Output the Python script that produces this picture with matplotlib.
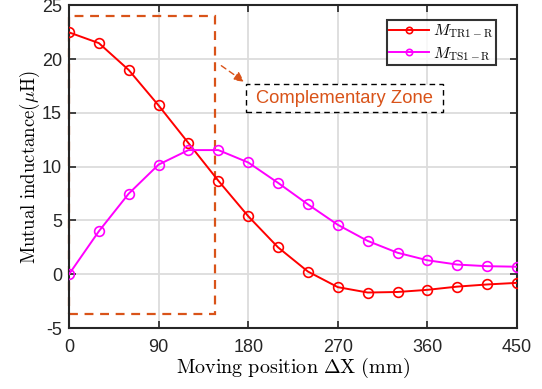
import matplotlib
matplotlib.use("Agg")
import matplotlib.pyplot as plt
from matplotlib.patches import Rectangle

plt.rcParams['mathtext.fontset'] = 'cm'
plt.rcParams['font.family'] = ['Liberation Sans', 'DejaVu Sans']
plt.rcParams['axes.unicode_minus'] = False

x_pos = [0, 30, 60, 90, 120, 150, 180, 210, 240, 270, 300, 330, 360, 390, 420, 450]
m_tr1 = [22.5, 21.5, 19.0, 15.7, 12.2, 8.7, 5.4, 2.5, 0.25, -1.2, -1.7, -1.65, -1.45, -1.15, -0.95, -0.8]
m_ts1 = [0.0, 4.0, 7.5, 10.2, 11.55, 11.55, 10.4, 8.5, 6.5, 4.6, 3.1, 2.0, 1.3, 0.9, 0.75, 0.7]
x_ticks = [0, 90, 180, 270, 360, 450]
y_ticks = [-5, 0, 5, 10, 15, 20, 25]
zone_x = [0, 147]
zone_y = [-3.7, 24]
label_box_x = [177.5, 376]
label_box_y = [15.1, 17.67]

fig = plt.figure(figsize=(5.42, 3.89), dpi=100)
ax = fig.add_axes([0.1273, 0.1568, 0.8266, 0.8291])

orange = '#D95319'
ax.plot(x_pos, m_tr1, '-o', color='red', lw=1.4, ms=7, mfc='none', mew=1.2,
        label=r'$M_{\mathrm{TR1-R}}$', zorder=3)
ax.plot(x_pos, m_ts1, '-o', color='magenta', lw=1.4, ms=7, mfc='none', mew=1.2,
        label=r'$M_{\mathrm{TS1-R}}$', zorder=3)

rect = Rectangle((zone_x[0], zone_y[0]), zone_x[1] - zone_x[0], zone_y[1] - zone_y[0],
                 fill=False, edgecolor=orange, lw=1.6, ls=(0, (4, 3)), zorder=2, clip_on=False)
ax.add_patch(rect)

ax.annotate('', xy=(176, 17.9), xytext=(153, 19.4),
            arrowprops=dict(arrowstyle='-|>', color=orange, lw=1.0, ls=(0, (4, 3)),
                            mutation_scale=15, shrinkA=0, shrinkB=0))
box = Rectangle((label_box_x[0], label_box_y[0]), label_box_x[1] - label_box_x[0],
                label_box_y[1] - label_box_y[0], facecolor='white', edgecolor='black',
                lw=1.0, ls=(0, (4, 3)), zorder=4)
ax.add_patch(box)
ax.text(sum(label_box_x) / 2, sum(label_box_y) / 2, 'Complementary Zone', color=orange,
        fontsize=13.2, va='center', ha='center', zorder=5)

ax.set_xlim(0, 450)
ax.set_ylim(-5, 25)
ax.set_xticks(x_ticks)
ax.set_yticks(y_ticks)
ax.tick_params(direction='in', top=True, right=True, labelsize=13, length=5, width=1.2,
               colors='#262626')
ax.tick_params(axis='x', pad=8)
ax.tick_params(axis='y', pad=5)
ax.grid(True, color='#dcdcdc', lw=1.3)
ax.set_axisbelow(True)
for s in ax.spines.values():
    s.set_color('#262626')
    s.set_linewidth(1.5)

ax.set_xlabel(r'$\mathrm{Moving\ position\ \Delta X\ (mm)}$', fontsize=14.5, labelpad=0)
ax.set_ylabel(r'$\mathrm{Mutual\ inductance(}\mu\mathrm{H)}$', fontsize=13.5, labelpad=0)

leg = ax.legend(loc='upper right', bbox_to_anchor=(0.953, 0.955), fontsize=11.5, frameon=True,
                fancybox=False, edgecolor='black', handlelength=2.5, handletextpad=0.25,
                borderpad=0.15, labelspacing=0.3, borderaxespad=0, markerscale=0.65)
leg.get_frame().set_linewidth(1.5)

fig.savefig('out.png', dpi=100)
